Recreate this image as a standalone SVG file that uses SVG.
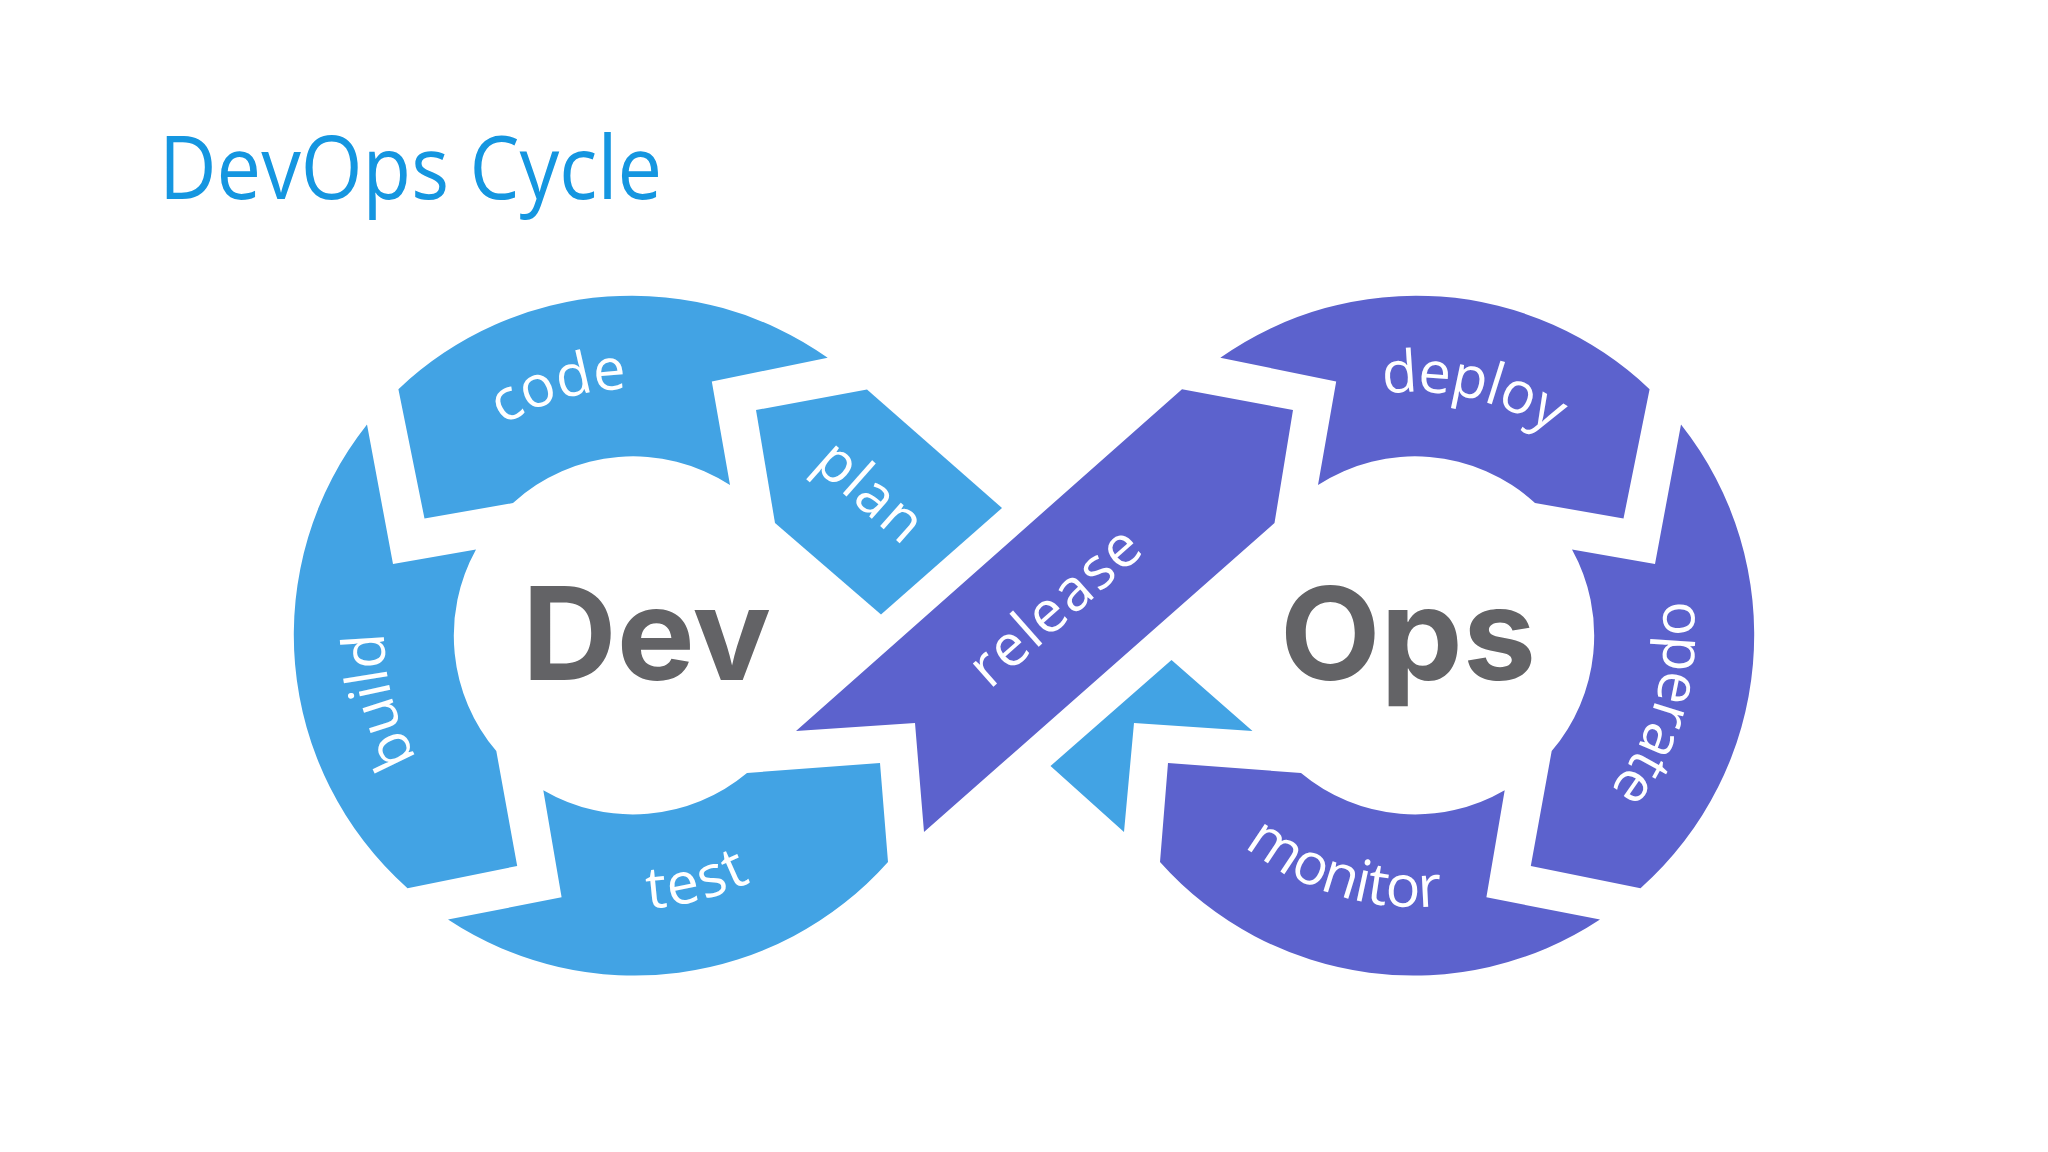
<svg xmlns="http://www.w3.org/2000/svg" width="2048" height="1152" viewBox="0 0 2048 1152">
<defs>
<style>
.blue{fill:#42a3e4}
.purple{fill:#5c62cd}
.lbl{font-family:"Open Sans",Lato,sans-serif;font-size:58px;fill:#ffffff}
.big{font-family:Inter,"Open Sans",sans-serif;font-weight:700;font-size:129px;fill:#636366}
.title{font-family:"Open Sans","Liberation Sans",sans-serif;font-size:88px;fill:#1596e0}
</style>
<path id="pCode" d="M386,635 A246,246 0 0 1 878,635"/>
<path id="pTest" d="M358,635 A274,274 0 0 0 906,635"/>
<path id="pBuild" d="M632,883 A248,248 0 0 1 632,387"/>
<path id="pDeploy" d="M1173,635 A243,243 0 0 1 1659,635"/>
<path id="pOperate" d="M1416,387 A248,248 0 0 1 1416,883"/>
<path id="pMonitor" d="M1144,635 A272,272 0 0 0 1688,635"/>
</defs>
<rect width="2048" height="1152" fill="#ffffff"/>
<text class="title" x="159" y="199" textLength="503" lengthAdjust="spacingAndGlyphs">DevOps Cycle</text>

<g id="connectors">
<g id="release">
<path class="purple" d="M1182,389.2 L1293,410 L1274.5,523 L924,832 L915,723 L796,731 Z"/>
<text class="lbl" transform="translate(1057,609) rotate(-41.5)" x="0" y="16" text-anchor="middle" textLength="208">release</text>
</g>
<g id="plan-tail">
<path class="blue" d="M1171.5,660 L1252.5,731 L1134,723 L1124,832 L1050.5,766 Z"/>
</g>
</g>

<g id="plan">
<path class="blue" d="M756,410 L867,389.5 L1002,508 L881,614.5 L775,523 Z"/>
<text class="lbl" transform="translate(868,494) rotate(41.5)" x="0" y="16" text-anchor="middle" textLength="122">plan</text>
</g>

<g id="code">
<path class="blue" d="M398.4,389.2 A339,339 0 0 1 827.7,357.8 L711.8,381.4 L730,485 A178,178 0 0 0 513,503 L424.5,518.5 Z"/>
<text class="lbl"><textPath href="#pCode" startOffset="40.9%" text-anchor="middle">code</textPath></text>
</g>

<g id="build">
<path class="blue" d="M367,424.5 L393,564 L476,549.5 A178,178 0 0 0 496.3,751 L517.2,866 L407.5,888.2 A339,339 0 0 1 367,424.5 Z"/>
<text class="lbl" letter-spacing="-1"><textPath href="#pBuild" startOffset="41.8%" text-anchor="middle">build</textPath></text>
</g>

<g id="test">
<path class="blue" d="M448,919.5 L561.6,897.3 L543.3,790.2 A178,178 0 0 0 747,773 L880,763 L888,862 A339,339 0 0 1 448,919.5 Z"/>
<text class="lbl" letter-spacing="2"><textPath href="#pTest" startOffset="58.2%" text-anchor="middle">test</textPath></text>
</g>

<g id="deploy">
<path class="purple" d="M1220.3,357.8 A339,339 0 0 1 1649.6,389.2 L1623.5,518.5 L1535,503 A178,178 0 0 0 1318,485 L1336.2,381.4 Z"/>
<text class="lbl" letter-spacing="-1"><textPath href="#pDeploy" startOffset="57.2%" text-anchor="middle">deploy</textPath></text>
</g>

<g id="operate">
<path class="purple" d="M1681,424.5 A339,339 0 0 1 1640.5,888.2 L1530.8,866 L1551.7,751 A178,178 0 0 0 1572,549.5 L1655,564 Z"/>
<text class="lbl" letter-spacing="-2"><textPath href="#pOperate" startOffset="58.5%" text-anchor="middle">operate</textPath></text>
</g>

<g id="monitor">
<path class="purple" d="M1600,919.5 L1486.4,897.3 L1504.7,790.2 A178,178 0 0 1 1301,773 L1168,763 L1160,862 A339,339 0 0 0 1600,919.5 Z"/>
<text class="lbl" letter-spacing="-1"><textPath href="#pMonitor" startOffset="40.6%" text-anchor="middle">monitor</textPath></text>
</g>

<g id="dev">
<text class="big" x="522" y="680" textLength="249" lengthAdjust="spacingAndGlyphs">Dev</text>
</g>
<g id="ops">
<text class="big" x="1280" y="680" textLength="256" lengthAdjust="spacingAndGlyphs">Ops</text>
</g>
</svg>
